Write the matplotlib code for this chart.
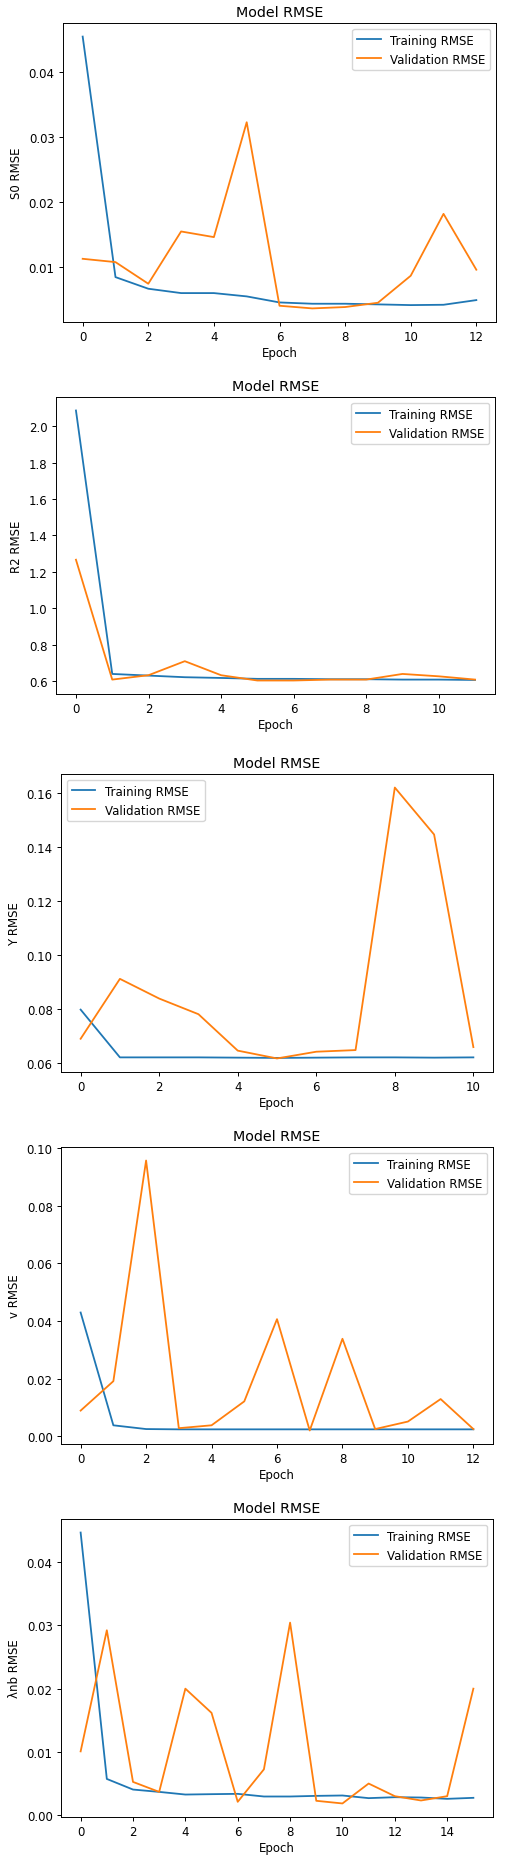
import matplotlib
matplotlib.use("Agg")
import matplotlib.pyplot as plt

# ---------------- data ----------------
s0_train = [0.0455, 0.00846, 0.00667, 0.0060, 0.0060, 0.00549, 0.00456, 0.00436, 0.00436, 0.00426, 0.00415, 0.0042, 0.00492]
s0_val = [0.01128, 0.01077, 0.00744, 0.01549, 0.01462, 0.03231, 0.00405, 0.00364, 0.00385, 0.00451, 0.00867, 0.0182, 0.0096]

r2_train = [2.086, 0.640, 0.631, 0.622, 0.618, 0.613, 0.613, 0.611, 0.611, 0.609, 0.609, 0.607]
r2_val = [1.267, 0.609, 0.633, 0.710, 0.633, 0.604, 0.604, 0.609, 0.609, 0.640, 0.627, 0.609]

y_train = [0.0798, 0.0621, 0.0621, 0.0621, 0.0620, 0.0619, 0.0620, 0.0621, 0.0621, 0.0620, 0.0621]
y_val = [0.0690, 0.0912, 0.0839, 0.0781, 0.0646, 0.0617, 0.0642, 0.0648, 0.1621, 0.1447, 0.0659]

v_train = [0.0429, 0.0038, 0.0025, 0.0024, 0.0024, 0.0024, 0.0024, 0.0024, 0.0024, 0.0024, 0.0024, 0.0024, 0.0024]
v_val = [0.0089, 0.0191, 0.0956, 0.0028, 0.0038, 0.0121, 0.0406, 0.0020, 0.0338, 0.0025, 0.0051, 0.0129, 0.0025]

lnb_train = [0.0447, 0.00572, 0.00404, 0.00367, 0.00325, 0.00331, 0.00336, 0.00294, 0.00294, 0.00304, 0.0031, 0.00268, 0.00283, 0.00278, 0.00257, 0.00273]
lnb_val = [0.01008, 0.02924, 0.00525, 0.00367, 0.0200, 0.01617, 0.0021, 0.00724, 0.03045, 0.00226, 0.00184, 0.00499, 0.00299, 0.00231, 0.00299, 0.0200]

y_labels = ["S0 RMSE", "R2 RMSE", "Y RMSE", "v RMSE", "λnb RMSE"]
title = "Model RMSE"
series_labels = ["Training RMSE", "Validation RMSE"]

# ---------------- layout ----------------
W, H = 508, 1858
# (left, right, top, bottom) in pixels
boxes = [(63, 496, 24, 323), (56, 495, 398, 695), (61, 493, 775, 1073),
         (61, 493, 1148, 1445), (61, 493, 1520, 1818)]
legend_locs = ["upper right", "upper right", "upper left", "upper right", "upper right"]

fs = 8.5
plt.rcParams.update({
    "font.family": ["DejaVu Sans"],
    "font.size": fs,
    "axes.linewidth": 0.7,
    "xtick.major.width": 0.7,
    "ytick.major.width": 0.7,
    "xtick.major.size": 3.0,
    "ytick.major.size": 3.0,
    "xtick.major.pad": 3.0,
    "ytick.major.pad": 3.0,
})

fig = plt.figure(figsize=(W / 100, H / 100), dpi=100)

datasets = [(s0_train, s0_val), (r2_train, r2_val), (y_train, y_val),
            (v_train, v_val), (lnb_train, lnb_val)]

for (tr, va), ylab, box, loc in zip(datasets, y_labels, boxes, legend_locs):
    l, r, t, b = box
    ax = fig.add_axes([l / W, (H - b) / H, (r - l) / W, (b - t) / H])
    ax.plot(range(len(tr)), tr, color="#1f77b4", lw=1.3, label=series_labels[0])
    ax.plot(range(len(va)), va, color="#ff7f0e", lw=1.3, label=series_labels[1])
    ax.set_title(title, fontsize=10.3, pad=5)
    ax.set_xlabel("Epoch", fontsize=fs, labelpad=2)
    ax.set_ylabel(ylab, fontsize=fs, labelpad=4)
    ax.tick_params(labelsize=fs)
    ax.legend(loc=loc, fontsize=fs, framealpha=0.8)

fig.savefig("out.png", dpi=100)
